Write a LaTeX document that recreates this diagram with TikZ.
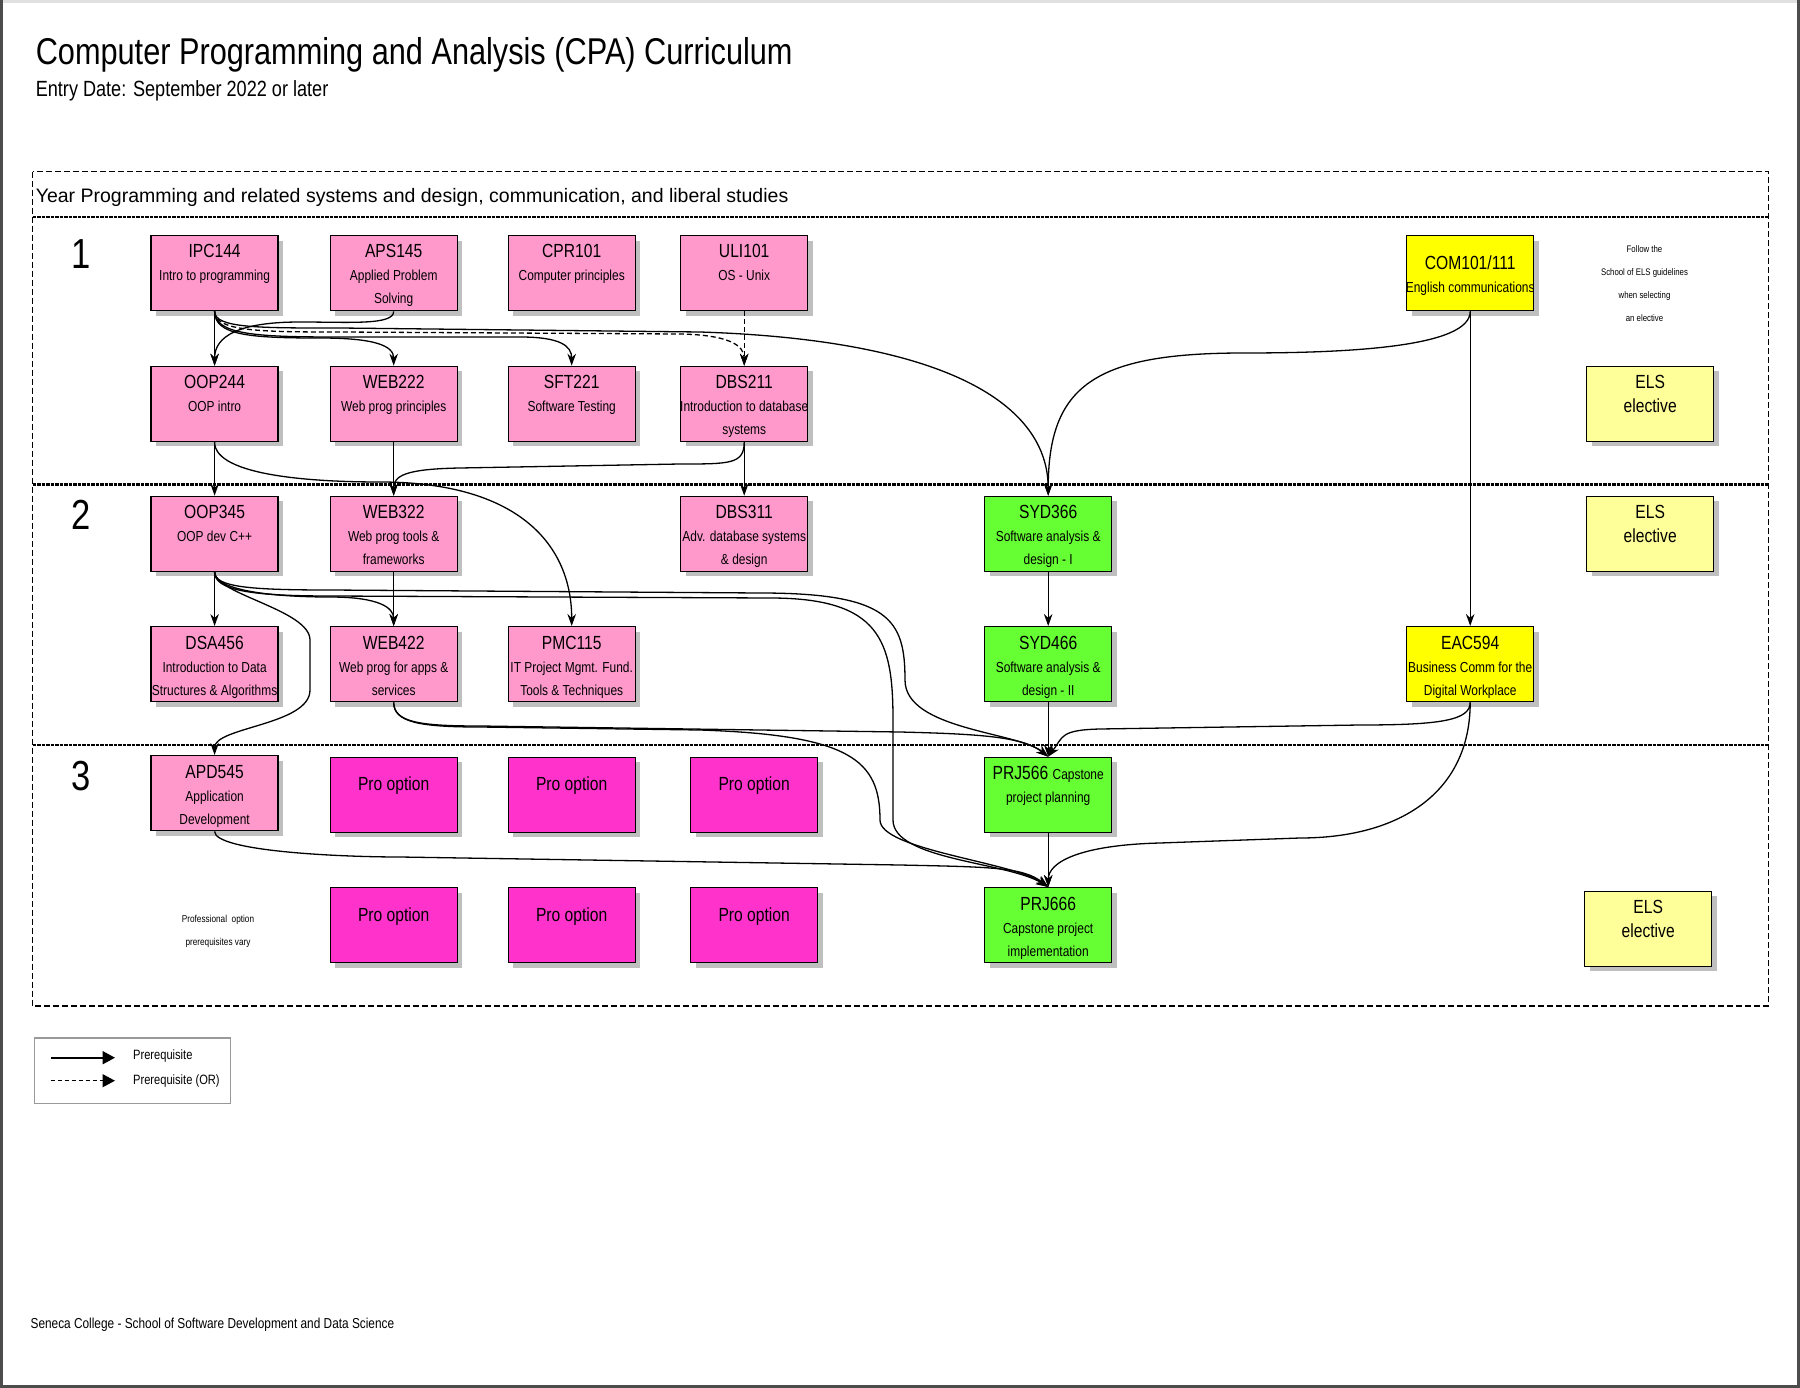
\documentclass[tikz,border=0pt]{standalone}
\usepackage{fontspec}
\setmainfont{Liberation Sans}[FakeStretch=0.823]
\newfontfamily\widesans{Liberation Sans}
\usetikzlibrary{arrows.meta,shadows}

\definecolor{coursepink}{HTML}{FF99CC}
\definecolor{propink}{HTML}{FF33CC}
\definecolor{sydgreen}{HTML}{66FF33}
\definecolor{comyellow}{HTML}{FFFF00}
\definecolor{elsyellow}{HTML}{FFFF99}

\newcommand{\codefont}{\fontsize{19}{24}\selectfont}
\newcommand{\subfont}{\fontsize{14.5}{23}\selectfont}
% box text: code on top, small lines below, centred even when too wide
\newcommand{\crs}[3][22.3pt]{\parbox[c][75pt][t]{127pt}{\centering
  \leftskip=-25pt plus 1fil\rightskip=-25pt plus 1fil
  \codefont\rule{0pt}{#1}#2\par\subfont #3\par}}

\tikzset{
  course/.style={draw, line width=1.4pt, anchor=north west, inner sep=0pt,
    drop shadow={shadow xshift=5pt, shadow yshift=-5pt, fill=black!25, opacity=1}},
  prereq/.style={line width=1.3pt, -{Stealth[length=12pt,width=8.5pt]}},
  thinreq/.style={prereq, line width=0.8pt},
  orreq/.style={prereq, dash pattern=on 5pt off 3pt},
  lane/.style={line width=2.2pt, dash pattern=on 3.5pt off 1pt},
  legendtip/.style={line width=2pt, -{Triangle[length=12.5pt,width=13pt]}},
}

\begin{document}
\begin{tikzpicture}[x=1pt,y=-1pt]
\useasboundingbox (0,0) rectangle (1800,1388);
\draw[black!12, line width=3pt] (0,1.5) -- (1800,1.5);
\draw[black!70, line width=3pt] (1.5,0) -- (1.5,1386.5) -- (1798.5,1386.5) -- (1798.5,0);

\node[anchor=base west, inner sep=0pt, font=\fontsize{37.3}{40}\selectfont] (title) at (35.6,65) {Computer Programming and Analysis (CPA) Curriculum};
\node[anchor=base west, inner sep=0pt, font=\fontsize{22}{24}\selectfont] (entry) at (35.6,97) {Entry Date: September 2022 or later};

% frame and year lanes
\draw[line width=1.3pt, dash pattern=on 6pt off 3pt] (32.7,171.7) rectangle (1768.6,1006);
\draw[lane] (32.7,217.3) -- (1768.6,217.3);
\draw[lane] (32.7,484.5) -- (1768.6,484.5);
\draw[lane] (32.7,745) -- (1768.6,745);
\node[anchor=base west, inner sep=0pt, font=\widesans\fontsize{19.5}{22}\selectfont] (lanehead) at (35.6,202.7) {Year Programming and related systems and design, communication, and liberal studies};
\node[font=\fontsize{42}{44}\selectfont, inner sep=0pt] (y1) at (81.5,254) {1};
\node[font=\fontsize{42}{44}\selectfont, inner sep=0pt] (y2) at (81,515) {2};
\node[font=\fontsize{42}{44}\selectfont, inner sep=0pt] (y3) at (81.5,776) {3};

% year 1
\node[course, fill=coursepink] (ipc) at (150.4,235) {\crs{IPC144}{Intro to programming}};
\node[course, fill=coursepink] (aps) at (329.5,235) {\crs{APS145}{Applied Problem\\Solving}};
\node[course, fill=coursepink] (cpr) at (507.5,235) {\crs{CPR101}{Computer principles}};
\node[course, fill=coursepink] (uli) at (680,235) {\crs{ULI101}{OS - Unix}};
\node[course, fill=comyellow] (com) at (1406,235) {\crs[33.5pt]{COM101/111}{English communications}};
\node[anchor=north, inner sep=0pt, align=center, font=\fontsize{9.5}{23}\selectfont] (elsnote) at (1644.5,245.6) {Follow the\\School of ELS guidelines\\when selecting\\an elective};
\node[course, fill=coursepink] (oop2) at (150.4,365.7) {\crs{OOP244}{OOP intro}};
\node[course, fill=coursepink] (web2) at (329.5,365.7) {\crs{WEB222}{Web prog principles}};
\node[course, fill=coursepink] (sft) at (507.5,365.7) {\crs{SFT221}{Software Testing}};
\node[course, fill=coursepink] (dbs2) at (680,365.7) {\crs{DBS211}{Introduction to database\\systems}};
\node[course, fill=elsyellow] (els1) at (1586,365.7) {\crs{ELS}{\codefont elective}};

% year 2
\node[course, fill=coursepink] (oop3) at (150.4,495.7) {\crs{OOP345}{OOP dev C++}};
\node[course, fill=coursepink] (web3) at (329.5,495.7) {\crs{WEB322}{Web prog tools \&\\frameworks}};
\node[course, fill=coursepink] (dbs3) at (680,495.7) {\crs{DBS311}{Adv. database systems\\\& design}};
\node[course, fill=sydgreen] (syd3) at (984,495.7) {\crs{SYD366}{Software analysis \&\\design - I}};
\node[course, fill=elsyellow] (els2) at (1586,495.7) {\crs{ELS}{\codefont elective}};
\node[course, fill=coursepink] (dsa) at (150.4,626) {\crs{DSA456}{Introduction to Data\\Structures \& Algorithms}};
\node[course, fill=coursepink] (web4) at (329.5,626) {\crs{WEB422}{Web prog for apps \&\\services}};
\node[course, fill=coursepink] (pmc) at (507.5,626) {\crs{PMC115}{IT Project Mgmt. Fund.\\Tools \& Techniques}};
\node[course, fill=sydgreen] (syd4) at (984,626) {\crs{SYD466}{Software analysis \&\\design - II}};
\node[course, fill=comyellow] (eac) at (1406,626) {\crs{EAC594}{Business Comm for the\\Digital Workplace}};

% year 3
\node[course, fill=coursepink] (apd) at (150.4,755) {\crs{APD545}{Application\\Development}};
\node[course, fill=propink] (proa) at (329.5,756.7) {\crs[33.5pt]{Pro option}{}};
\node[course, fill=propink] (prob) at (507.5,756.7) {\crs[33.5pt]{Pro option}{}};
\node[course, fill=propink] (proc) at (690,756.7) {\crs[33.5pt]{Pro option}{}};
\node[course, fill=sydgreen] (prj5) at (984,756.7) {\crs{PRJ566 {\subfont Capstone}}{project planning}};
\node[anchor=north, inner sep=0pt, align=center, font=\fontsize{10}{23}\selectfont] (pronote) at (218,915.4) {Professional\ \ option\\prerequisites vary};
\node[course, fill=propink] (prod) at (329.5,887) {\crs[33.5pt]{Pro option}{}};
\node[course, fill=propink] (proe) at (507.5,887) {\crs[33.5pt]{Pro option}{}};
\node[course, fill=propink] (prof) at (690,887) {\crs[33.5pt]{Pro option}{}};
\node[course, fill=sydgreen] (prj6) at (984,887) {\crs{PRJ666}{Capstone project\\implementation}};
\node[course, fill=elsyellow] (els3) at (1584,890.7) {\crs{ELS}{\codefont elective}};

% prerequisites, year 1
\draw[prereq] (ipc.south) -- (oop2.north);
\draw[prereq] (aps.south) .. controls +(0,14) and +(50,0) .. (300,322) .. controls +(-60,0) and +(0,-30) .. (oop2.north);
\draw[prereq] (ipc.south) .. controls +(0,24) and +(-70,0) .. (320,338) .. controls +(55,0) and +(0,-20) .. (web2.north);
\draw[prereq] (ipc.south) .. controls +(0,24) and +(-80,0) .. (340,337) -- (520,337) .. controls +(40,0) and +(0,-20) .. (sft.north);
\draw[orreq] (ipc.south) .. controls +(0,20) and +(-80,0) .. (340,332) -- (680,334) .. controls +(50,1) and +(0,-20) .. (dbs2.north);
\draw[orreq] (uli.south) -- (dbs2.north);
\draw[prereq] (ipc.south) .. controls +(0,17) and +(-80,0) .. (340,328) -- (700,332) .. controls +(250,8) and +(0,-90) .. (syd3.north);
\draw[prereq] (com.south) .. controls +(0,35) and +(110,0) .. (1244,353) .. controls +(-150,0) and +(0,-110) .. (syd3.north);
\draw[prereq] (com.south) -- (eac.north);

% year 1 to year 2
\draw[prereq] (oop2.south) -- (oop3.north);
\draw[thinreq] (web2.south) -- (web3.north);
\draw[prereq] (dbs2.south) .. controls +(0,22) and +(50,0) .. (680,464) -- (460,468) .. controls +(-55,1) and +(0,-20) .. (web3.north);
\draw[prereq] (dbs2.south) -- (dbs3.north);
\draw[prereq] (oop2.south) .. controls +(0,35) and +(-60,0) .. (380,482) .. controls +(140,0) and +(0,-80) .. (pmc.north);

% year 2
\draw[prereq] (oop3.south) -- (dsa.north);
\draw[thinreq] (web3.south) -- (web4.north);
\draw[prereq] (oop3.south) .. controls +(0,18) and +(-60,0) .. (330,597) .. controls +(50,0) and +(0,-18) .. (web4.north);
\draw[prereq] (oop3.south) .. controls +(0,22) and +(0,-30) .. (310,640) -- (310,690) .. controls +(0,35) and +(0,-28) .. (apd.north);
\draw[prereq] (oop3.south) .. controls +(0,15) and +(-80,0) .. (330,590) -- (760,593) .. controls +(130,0) and +(0,-60) .. (905,680) .. controls +(0,50) and +(-30,-25) .. (prj5.north);
\draw[prereq] (oop3.south) .. controls +(0,18) and +(-80,0) .. (330,596) -- (770,598) .. controls +(110,0) and +(0,-80) .. (893,720) -- (893,820) .. controls +(0,40) and +(-40,-25) .. (prj6.north);
\draw[thinreq] (syd3.south) -- (syd4.north);
\draw[thinreq] (syd4.south) -- (prj5.north);
\draw[prereq] (web4.south) .. controls +(0,20) and +(-60,0) .. (480,726) -- (900,732) .. controls +(80,2) and +(-25,-20) .. (prj5.north);
\draw[prereq] (web4.south) .. controls +(0,20) and +(-60,0) .. (480,727) -- (700,730) .. controls +(150,5) and +(0,-60) .. (880,820) .. controls +(0,30) and +(-35,-25) .. (prj6.north);
\draw[prereq] (eac.south) .. controls +(0,18) and +(80,0) .. (1360,725) -- (1100,729) .. controls +(-40,1) and +(15,-20) .. (prj5.north);
\draw[prereq] (eac.south) .. controls +(0,90) and +(100,0) .. (1300,838) -- (1160,843) .. controls +(-80,2) and +(0,-25) .. (prj6.north);

% year 3
\draw[thinreq] (prj5.south) -- (prj6.north);
\draw[prereq] (apd.south) .. controls +(0,20) and +(-60,0) .. (400,857) -- (900,865) .. controls +(90,2) and +(-25,-20) .. (prj6.north);

% legend
\node[draw=black!40, line width=1.5pt, anchor=north west, inner sep=0pt, minimum width=196pt, minimum height=65.7pt] (legend) at (33.9,1037) {};
\coordinate (lga) at (50.5,1057.7);
\coordinate (lgb) at (115,1057.7);
\coordinate (lgc) at (50.5,1080.7);
\coordinate (lgd) at (115,1080.7);
\draw[legendtip] (lga) -- (lgb);
\draw[legendtip, line width=1.5pt, dash pattern=on 4pt off 3pt] (lgc) -- (lgd);
\node[anchor=base west, inner sep=0pt, font=\fontsize{13.5}{16}\selectfont] (lgsolid) at (133,1059.8) {Prerequisite};
\node[anchor=base west, inner sep=0pt, font=\fontsize{13.5}{16}\selectfont] (lgdash) at (133,1084.8) {Prerequisite (OR)};

\node[anchor=base west, inner sep=0pt, font=\fontsize{14.4}{16}\selectfont] (footer) at (30.4,1328) {Seneca College - School of Software Development and Data Science};
\end{tikzpicture}
\end{document}
